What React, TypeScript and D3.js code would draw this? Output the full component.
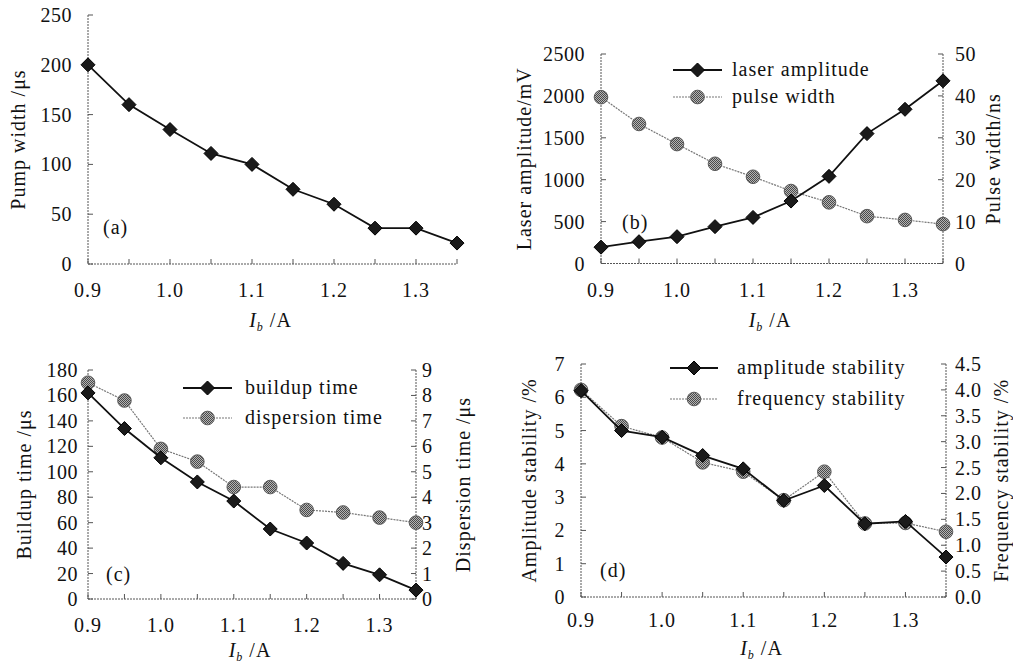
import * as d3 from 'd3';
import { useEffect, useRef } from 'react';

const currents = [0.9, 0.95, 1.0, 1.05, 1.1, 1.15, 1.2, 1.25, 1.3, 1.35];
const xTickLabels = [0.9, 1.0, 1.1, 1.2, 1.3];

const pumpWidth = [200, 160, 135, 111, 100, 75, 60, 36, 36, 21];
const laserAmplitude = [195, 260, 320, 440, 550, 745, 1040, 1550, 1840, 2180];
const pulseWidth = [39.7, 33.3, 28.5, 23.8, 20.7, 17.3, 14.6, 11.3, 10.4, 9.4];
const buildupTime = [162, 134, 111, 92, 77, 55, 44, 28, 19, 7];
const dispersionTime = [8.5, 7.8, 5.9, 5.4, 4.4, 4.4, 3.5, 3.4, 3.2, 3.0];
const amplitudeStability = [6.2, 5.0, 4.8, 4.25, 3.85, 2.9, 3.35, 2.2, 2.27, 1.2];
const frequencyStability = [4.0, 3.3, 3.08, 2.6, 2.42, 1.87, 2.42, 1.42, 1.43, 1.26];

const FONT = '"Liberation Serif", "Times New Roman", serif';
const FS = 20;

const panels = [
  {
    id: 'a',
    box: { left: 88, right: 457, top: 15, bottom: 264 },
    left: { domain: [0, 250], ticks: [0, 50, 100, 150, 200, 250], title: 'Pump width /μs', titleX: 18, labelGap: 16 },
    series: [{ values: pumpWidth, axis: 'left', kind: 'diamond' }],
    tag: { x: 103, y: 234 },
    xLabelY: 297,
    xTitleY: 327,
  },
  {
    id: 'b',
    box: { left: 601, right: 943, top: 54, bottom: 263.5 },
    left: { domain: [0, 2500], ticks: [0, 500, 1000, 1500, 2000, 2500], title: 'Laser amplitude/mV', titleX: 524, labelGap: 16 },
    right: { domain: [0, 50], ticks: [0, 10, 20, 30, 40, 50], title: 'Pulse width/ns', titleX: 993, labelGap: 12 },
    series: [
      { values: laserAmplitude, axis: 'left', kind: 'diamond', label: 'laser amplitude' },
      { values: pulseWidth, axis: 'right', kind: 'circle', label: 'pulse width' },
    ],
    legend: { x0: 673, x1: 722, textX: 732, y: [70, 97] },
    tag: { x: 622, y: 229 },
    xLabelY: 297,
    xTitleY: 327,
  },
  {
    id: 'c',
    box: { left: 88, right: 416, top: 370, bottom: 599 },
    left: { domain: [0, 180], ticks: [0, 20, 40, 60, 80, 100, 120, 140, 160, 180], title: 'Buildup time /μs', titleX: 24, labelGap: 10 },
    right: { domain: [0, 9], ticks: [0, 1, 2, 3, 4, 5, 6, 7, 8, 9], title: 'Dispersion time /μs', titleX: 463, labelGap: 6 },
    series: [
      { values: buildupTime, axis: 'left', kind: 'diamond', label: 'buildup time' },
      { values: dispersionTime, axis: 'right', kind: 'circle', label: 'dispersion time' },
    ],
    legend: { x0: 183, x1: 232, textX: 245, y: [388, 418] },
    tag: { x: 106, y: 581 },
    xLabelY: 632,
    xTitleY: 657,
  },
  {
    id: 'd',
    box: { left: 581, right: 946, top: 364, bottom: 597 },
    left: { domain: [0, 7], ticks: [0, 1, 2, 3, 4, 5, 6, 7], title: 'Amplitude stability /%', titleX: 529, labelGap: 16 },
    right: { domain: [0, 4.5], ticks: [0, 0.5, 1, 1.5, 2, 2.5, 3, 3.5, 4, 4.5], title: 'Frequency stability /%', titleX: 1001, labelGap: 9, format: '.1f' },
    series: [
      { values: amplitudeStability, axis: 'left', kind: 'diamond', label: 'amplitude stability' },
      { values: frequencyStability, axis: 'right', kind: 'circle', label: 'frequency stability' },
    ],
    legend: { x0: 670, x1: 718, textX: 737, y: [368, 399] },
    tag: { x: 600, y: 577 },
    xLabelY: 627,
    xTitleY: 655,
  },
];

function drawMarker(g, kind, x, y) {
  if (kind === 'diamond') {
    g.append('path')
      .attr('d', `M${x},${y - 7}L${x + 7},${y}L${x},${y + 7}L${x - 7},${y}Z`)
      .attr('fill', '#1a1a1a')
      .attr('stroke', '#000')
      .attr('stroke-width', 1);
  } else {
    g.append('circle')
      .attr('cx', x)
      .attr('cy', y)
      .attr('r', 6.8)
      .attr('fill', 'url(#halftone)')
      .attr('stroke', '#5a5a5a')
      .attr('stroke-width', 1);
  }
}

export default function App() {
  const ref = useRef(null);

  useEffect(() => {
    const svg = d3.select(ref.current);
    svg.selectAll('*').remove();

    const defs = svg.append('defs');
    const pat = defs.append('pattern')
      .attr('id', 'halftone')
      .attr('width', 2)
      .attr('height', 2)
      .attr('patternUnits', 'userSpaceOnUse');
    pat.append('rect').attr('width', 2).attr('height', 2).attr('fill', '#b4b4b4');
    pat.append('rect').attr('width', 1).attr('height', 1).attr('fill', '#4a4a4a');
    pat.append('rect').attr('x', 1).attr('y', 1).attr('width', 1).attr('height', 1).attr('fill', '#4a4a4a');

    const axisStroke = '#555';
    const txt = (sel, spacing = 1) => sel
      .style('font-family', FONT)
      .style('font-size', `${FS}px`)
      .style('letter-spacing', `${spacing}px`)
      .attr('fill', '#111');

    panels.forEach((p) => {
      const g = svg.append('g').attr('class', `panel-${p.id}`);
      const { left, right, top, bottom } = p.box;
      const x = d3.scaleLinear().domain([0.9, 1.35]).range([left, right]);
      const yL = d3.scaleLinear().domain(p.left.domain).range([bottom, top]);
      const yR = p.right ? d3.scaleLinear().domain(p.right.domain).range([bottom, top]) : null;

      // axis lines (dotted, like the scanned figure)
      const axisLine = (x1, y1, x2, y2) => g.append('line')
        .attr('x1', x1).attr('y1', y1).attr('x2', x2).attr('y2', y2)
        .attr('stroke', axisStroke).attr('stroke-width', 1).attr('stroke-dasharray', '2 1');
      axisLine(left, top, left, bottom);
      axisLine(left, bottom, right, bottom);
      if (yR) axisLine(right, top, right, bottom);

      // x ticks
      currents.forEach((c) => {
        g.append('line')
          .attr('x1', x(c)).attr('x2', x(c)).attr('y1', bottom).attr('y2', bottom - 5)
          .attr('stroke', axisStroke);
      });
      xTickLabels.forEach((c) => {
        txt(g.append('text'))
          .attr('x', x(c))
          .attr('y', p.xLabelY)
          .attr('text-anchor', 'middle')
          .text(d3.format('.1f')(c));
      });

      // x title: I_b /A
      const xt = txt(g.append('text'))
        .attr('x', (left + right) / 2 - 2)
        .attr('y', p.xTitleY)
        .attr('text-anchor', 'middle');
      xt.append('tspan').style('font-style', 'italic').text('I');
      xt.append('tspan').attr('dy', 4).style('font-style', 'italic').style('font-size', '12px').text('b');
      xt.append('tspan').attr('dy', -4).text(' /A');

      // left axis
      p.left.ticks.forEach((t) => {
        g.append('line')
          .attr('x1', left).attr('x2', left + 5).attr('y1', yL(t)).attr('y2', yL(t))
          .attr('stroke', axisStroke);
        txt(g.append('text'), 0.5)
          .attr('x', left - p.left.labelGap)
          .attr('y', yL(t))
          .attr('dy', '0.35em')
          .attr('text-anchor', 'end')
          .text(String(t));
      });
      txt(g.append('text'))
        .attr('transform', `translate(${p.left.titleX},${(top + bottom) / 2}) rotate(-90)`)
        .attr('text-anchor', 'middle')
        .attr('dy', '0.35em')
        .text(p.left.title);

      // right axis
      if (yR) {
        const fmt = p.right.format ? d3.format(p.right.format) : String;
        p.right.ticks.forEach((t) => {
          g.append('line')
            .attr('x1', right - 5).attr('x2', right).attr('y1', yR(t)).attr('y2', yR(t))
            .attr('stroke', axisStroke);
          txt(g.append('text'), 0.5)
            .attr('x', right + p.right.labelGap)
            .attr('y', yR(t))
            .attr('dy', '0.35em')
            .attr('text-anchor', 'start')
            .text(fmt(t));
        });
        txt(g.append('text'))
          .attr('transform', `translate(${p.right.titleX},${(top + bottom) / 2}) rotate(-90)`)
          .attr('text-anchor', 'middle')
          .attr('dy', '0.35em')
          .text(p.right.title);
      }

      // series, circle series underneath
      const ordered = [...p.series].sort((s1, s2) => (s1.kind === 'circle' ? -1 : 1) - (s2.kind === 'circle' ? -1 : 1));
      ordered.forEach((s) => {
        const yS = s.axis === 'left' ? yL : yR;
        const line = d3.line()
          .x((_, i) => x(currents[i]))
          .y((v) => yS(v));
        g.append('path')
          .attr('d', line(s.values))
          .attr('fill', 'none')
          .attr('stroke', s.kind === 'diamond' ? '#111' : '#777')
          .attr('stroke-width', s.kind === 'diamond' ? 1.8 : 1.2)
          .attr('stroke-dasharray', s.kind === 'diamond' ? null : '2 1');
        s.values.forEach((v, i) => drawMarker(g, s.kind, x(currents[i]), yS(v)));
      });

      // legend
      if (p.legend) {
        p.series.forEach((s, i) => {
          const ly = p.legend.y[i];
          g.append('line')
            .attr('x1', p.legend.x0).attr('x2', p.legend.x1).attr('y1', ly).attr('y2', ly)
            .attr('stroke', s.kind === 'diamond' ? '#111' : '#777')
            .attr('stroke-width', s.kind === 'diamond' ? 1.8 : 1.2)
            .attr('stroke-dasharray', s.kind === 'diamond' ? null : '2 1');
          drawMarker(g, s.kind, (p.legend.x0 + p.legend.x1) / 2, ly);
          txt(g.append('text'))
            .attr('x', p.legend.textX)
            .attr('y', ly)
            .attr('dy', '0.3em')
            .text(s.label);
        });
      }

      txt(g.append('text'))
        .attr('x', p.tag.x)
        .attr('y', p.tag.y)
        .text(`(${p.id})`);
    });

    return () => {
      svg.selectAll('*').remove();
    };
  }, []);

  return (
    <svg
      ref={ref}
      width={1013}
      height={664}
      style={{ position: 'absolute', left: 0, top: 0, background: '#fff' }}
    />
  );
}
